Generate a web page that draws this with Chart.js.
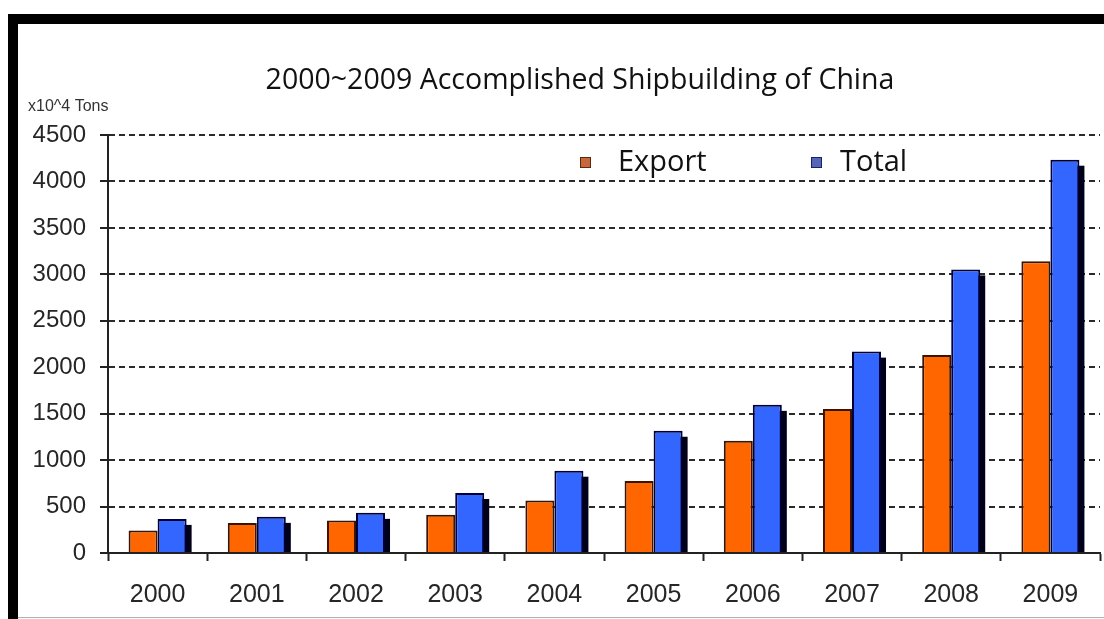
<!DOCTYPE html>
<html>
<head>
<meta charset="utf-8">
<script src="https://cdn.jsdelivr.net/npm/chart.js@4.4.1/dist/chart.umd.min.js"></script>
<style>
  html, body { margin: 0; padding: 0; background: #ffffff; }
  #wrap { width: 1104px; height: 619px; }
</style>
</head>
<body>
<div id="wrap"><canvas id="c" width="1104" height="619"></canvas></div>
<script>
// Completed shipbuilding output, 10^4 tons
const years = ['2000', '2001', '2002', '2003', '2004', '2005', '2006', '2007', '2008', '2009'];
const exportTons = [241, 324, 349, 413, 564, 775, 1208, 1549, 2132, 3142];
const totalTons = [367, 389, 432, 646, 886, 1316, 1595, 2168, 3053, 4234];
const seriesNames = ['Export', 'Total'];
const titleText = '2000~2009 Accomplished Shipbuilding of China';
const unitText = 'x10^4 Tons';

const AXIS_FONT = "'Liberation Sans', Arial, sans-serif";
const TITLE_FONT = "'Open Sans', 'Noto Sans', sans-serif";

// White page with the black frame at top and left
const framePlugin = {
  id: 'frame',
  beforeDraw(chart) {
    const ctx = chart.ctx;
    ctx.save();
    ctx.fillStyle = '#ffffff';
    ctx.fillRect(0, 0, chart.width, chart.height);
    ctx.fillStyle = '#000000';
    ctx.fillRect(8, 14, chart.width - 8, 10);
    ctx.fillRect(8, 14, 10, chart.height - 14);
    ctx.fillStyle = '#b0b0b0';
    ctx.fillRect(18, chart.height - 2, chart.width - 18, 1);
    ctx.restore();
  }
};

// Dark offset block behind the Total bars for a raised look
const shadowPlugin = {
  id: 'barShadow',
  beforeDatasetsDraw(chart) {
    const ctx = chart.ctx;
    const meta = chart.getDatasetMeta(1);
    ctx.save();
    ctx.fillStyle = '#000018';
    meta.data.forEach(bar => {
      const p = bar.getProps(['x', 'y', 'base', 'width'], true);
      const left = p.x - p.width / 2;
      ctx.fillRect(left + 5, p.y + 6, p.width, p.base - p.y - 6);
    });
    ctx.restore();
  }
};

// Title, unit caption and in-plot legend
const textPlugin = {
  id: 'texts',
  afterDraw(chart) {
    const ctx = chart.ctx;
    ctx.save();
    ctx.fillStyle = '#111111';
    ctx.textBaseline = 'middle';
    ctx.textAlign = 'center';
    ctx.font = "28.5px " + TITLE_FONT;
    ctx.fillText(titleText, 580, 81);

    ctx.textAlign = 'left';
    ctx.fillStyle = '#333333';
    ctx.font = "16px " + AXIS_FONT;
    ctx.fillText(unitText, 28, 107);

    const items = [
      { x: 580, tx: 618, fill: '#c8683a', stroke: '#5a2a10' },
      { x: 811, tx: 840, fill: '#5566b8', stroke: '#1a2266' }
    ];
    ctx.font = "29px " + TITLE_FONT;
    items.forEach((it, i) => {
      ctx.fillStyle = it.fill;
      ctx.fillRect(it.x, 157, 11, 11);
      ctx.strokeStyle = it.stroke;
      ctx.lineWidth = 1;
      ctx.strokeRect(it.x + 0.5, 157.5, 10, 10);
      ctx.fillStyle = '#111111';
      ctx.fillText(seriesNames[i], it.tx, 163);
    });
    ctx.restore();
  }
};

new Chart(document.getElementById('c'), {
  type: 'bar',
  data: {
    labels: years,
    datasets: [
      {
        label: seriesNames[0],
        data: exportTons,
        backgroundColor: '#ff6600',
        borderColor: '#3a1400',
        borderWidth: 2,
        borderSkipped: 'bottom'
      },
      {
        label: seriesNames[1],
        data: totalTons,
        backgroundColor: '#3366ff',
        borderColor: '#000038',
        borderWidth: 2,
        borderSkipped: 'bottom'
      }
    ]
  },
  options: {
    responsive: false,
    animation: false,
    layout: { padding: { left: 0, right: 4, top: 135, bottom: 0 } },
    plugins: {
      legend: { display: false },
      title: { display: false },
      tooltip: { enabled: false }
    },
    datasets: {
      bar: { categoryPercentage: 0.585, barPercentage: 1.0 }
    },
    scales: {
      x: {
        offset: true,
        grid: {
          offset: true,
          drawOnChartArea: false,
          drawTicks: true,
          tickLength: 8,
          tickColor: '#222222',
          tickWidth: 2
        },
        border: { display: true, color: '#222222', width: 2 },
        ticks: {
          color: '#262626',
          font: { family: AXIS_FONT, size: 25 },
          padding: 19
        },
        afterFit(scale) { scale.height = 66; }
      },
      y: {
        min: 0,
        max: 4500,
        ticks: {
          stepSize: 500,
          color: '#262626',
          font: { family: AXIS_FONT, size: 24 },
          padding: 14,
          callback: v => String(v)
        },
        grid: {
          color: '#2a2a2a',
          lineWidth: 2,
          tickLength: 8,
          tickColor: '#222222',
          tickWidth: 2,
          tickBorderDash: []
        },
        border: { display: true, color: '#222222', width: 2, dash: [6, 4] },
        afterFit(scale) { scale.width = 108; }
      }
    }
  },
  plugins: [framePlugin, shadowPlugin, textPlugin]
});
</script>
</body>
</html>
